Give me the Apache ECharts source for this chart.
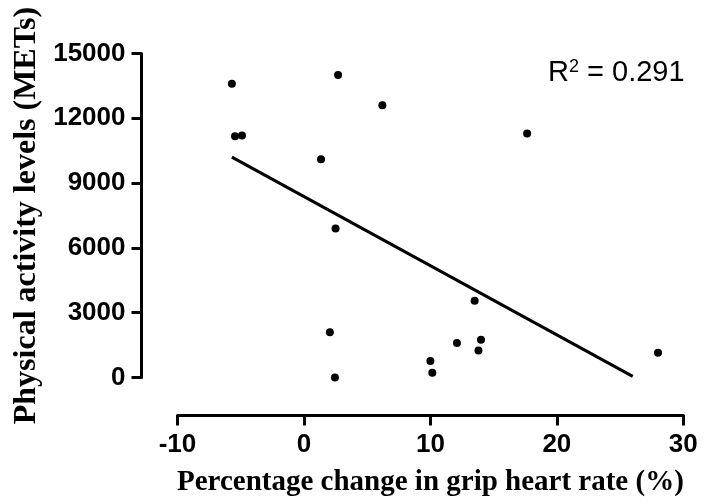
<!DOCTYPE html>
<html>
<head>
<meta charset="utf-8">
<script src="https://cdn.jsdelivr.net/npm/echarts@6/dist/echarts.min.js"></script>
<style>
  html, body { margin: 0; padding: 0; background: #fff; }
  #chart { width: 705px; height: 504px; }
</style>
</head>
<body>
<div id="chart"></div>
<script>
// grip heart rate change (%) vs physical activity (METs)
var pctChange = [-5.7, 2.7, 6.2, -5.45, -4.9, 1.35, 2.5, 2.05, 2.45, 12.1, 10.0, 10.15, 17.65, 13.5, 14.0, 13.8, 28.0];
var metsLevel = [13600, 14000, 12600, 11170, 11200, 10100, 6900, 2100, 0, 1600, 760, 220, 11300, 3550, 1750, 1250, 1150];

var fitX = [-5.7, 26.0];
var fitY = [10200, 50];

var xTicks = { min: -10, max: 30, interval: 10 };
var yTicks = { min: 0, max: 15000, interval: 3000 };
var r2Value = '0.291';

var scatterData = pctChange.map(function (x, i) { return [x, metsLevel[i]]; });
var lineData = fitX.map(function (x, i) { return [x, fitY[i]]; });

var axisStyle = {
  axisLine: { show: true, onZero: false, lineStyle: { color: '#000', width: 3 } },
  axisTick: { show: true, length: 10, lineStyle: { color: '#000', width: 3 } },
  splitLine: { show: false }
};
var tickFont = { fontFamily: 'Liberation Sans', fontWeight: 'bold', fontSize: 26, color: '#000' };

var option = {
  backgroundColor: '#fff',
  animation: false,
  grid: { left: 177.5, right: 21.7, top: 53.5, bottom: 126.5 },
  xAxis: Object.assign({
    type: 'value',
    min: xTicks.min, max: xTicks.max, interval: xTicks.interval,
    offset: 38,
    name: 'Percentage change in grip heart rate (%)',
    nameLocation: 'middle',
    nameGap: 53,
    nameTextStyle: { fontFamily: 'Liberation Serif', fontWeight: 'bold', fontSize: 29, color: '#000' },
    axisLabel: Object.assign({ margin: 16, formatter: function (v) { return String(v); } }, tickFont)
  }, axisStyle),
  yAxis: Object.assign({
    type: 'value',
    min: yTicks.min, max: yTicks.max, interval: yTicks.interval,
    offset: 36,
    name: 'Physical activity levels (METs)',
    nameLocation: 'middle',
    nameGap: 95,
    nameTextStyle: { fontFamily: 'Liberation Serif', fontWeight: 'bold', fontSize: 32, color: '#000' },
    axisLabel: Object.assign({ margin: 16, formatter: function (v) { return String(v); } }, tickFont)
  }, axisStyle),
  graphic: [{
    type: 'text',
    left: 548,
    top: 58,
    style: {
      text: '{r|R}{s|2}{r| = ' + r2Value + '}',
      rich: {
        r: { fontFamily: 'Liberation Sans', fontSize: 29, fill: '#000', color: '#000', verticalAlign: 'bottom' },
        s: { fontFamily: 'Liberation Sans', fontSize: 18, fill: '#000', color: '#000', verticalAlign: 'top' }
      }
    }
  }],
  series: [
    {
      type: 'scatter',
      data: scatterData,
      symbol: 'circle',
      symbolSize: 8,
      itemStyle: { color: '#000', opacity: 1 }
    },
    {
      type: 'line',
      data: lineData,
      symbol: 'none',
      lineStyle: { color: '#000', width: 3 }
    }
  ]
};

var myChart = echarts.init(document.getElementById('chart'));
myChart.setOption(option);
</script>
</body>
</html>
